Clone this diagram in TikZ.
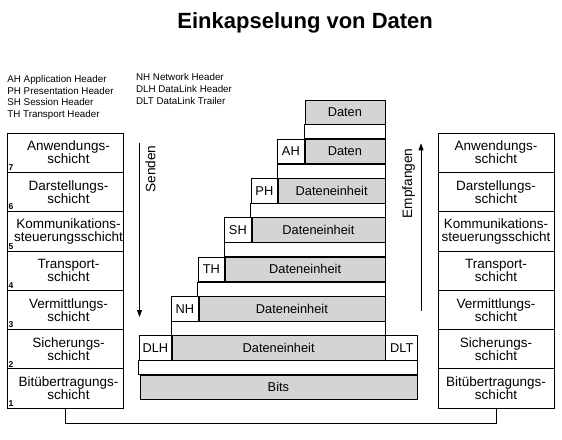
\documentclass[tikz,border=0pt]{standalone}
\usepackage{fontspec}
\setmainfont{Liberation Sans}
\usetikzlibrary{arrows.meta}

\begin{document}
\begin{tikzpicture}[x=1pt, y=-1pt, >={Triangle[length=7pt, width=5pt]}, line width=0.8pt,
  laytxt/.style={inner sep=0pt, align=center, font=\fontsize{13.5}{13}\selectfont},
  lay/.style={laytxt, draw, minimum width=116pt, minimum height=39.3pt},
  num/.style={inner sep=1.6pt, font=\fontsize{8.5}{9}\selectfont\bfseries},
  hdr/.style={draw, fill=white, minimum height=24.5pt, inner sep=0pt, font=\fontsize{12.8}{14}\selectfont},
  pay/.style={hdr, fill=black!17},
  leg/.style={anchor=base west, inner sep=0pt, font=\fontsize{9.8}{12}\selectfont},
  dir/.style={rotate=90, inner sep=0pt, font=\fontsize{13.7}{14}\selectfont}]
\useasboundingbox (0,0) rectangle (562,439);
%% title and legend
\node[anchor=base west, inner sep=0pt, font=\fontsize{22}{26}\selectfont\bfseries] (title) at (177,28) {Einkapselung von Daten};
\node[leg] (lah) at (7,82.5) {AH Application Header};
\node[leg] (lph) at (7,94) {PH Presentation Header};
\node[leg] (lsh) at (7,105.5) {SH Session Header};
\node[leg] (lth) at (7,117) {TH Transport Header};
\node[leg] (lnh) at (135.7,80.7) {NH Network Header};
\node[leg] (ldlh) at (135.7,92.7) {DLH DataLink Header};
\node[leg] (ldlt) at (135.7,104.7) {DLT DataLink Trailer};
%% sender layers
\node[lay] (s7) at (65,152.65) {};
\node[lay] (s6) at (65,191.95) {};
\node[lay] (s5) at (65,231.25) {};
\node[lay] (s4) at (65,270.55) {};
\node[lay] (s3) at (65,309.85) {};
\node[lay] (s2) at (65,349.15) {};
\node[lay] (s1) at (65,388.45) {};
\node[laytxt] (t7) at ([xshift=3.5pt]s7.center) {Anwendungs-\\schicht};
\node[laytxt] (t6) at ([xshift=3.5pt]s6.center) {Darstellungs-\\schicht};
\node[laytxt] (t5) at ([xshift=3.5pt]s5.center) {Kommunikations-\\steuerungsschicht};
\node[laytxt] (t4) at ([xshift=3.5pt]s4.center) {Transport-\\schicht};
\node[laytxt] (t3) at ([xshift=3.5pt]s3.center) {Vermittlungs-\\schicht};
\node[laytxt] (t2) at ([xshift=3.5pt]s2.center) {Sicherungs-\\schicht};
\node[laytxt] (t1) at ([xshift=3.5pt]s1.center) {Bitübertragungs-\\schicht};
\node[num, anchor=south west] (n7) at (s7.south west) {7};
\node[num, anchor=south west] (n6) at (s6.south west) {6};
\node[num, anchor=south west] (n5) at (s5.south west) {5};
\node[num, anchor=south west] (n4) at (s4.south west) {4};
\node[num, anchor=south west] (n3) at (s3.south west) {3};
\node[num, anchor=south west] (n2) at (s2.south west) {2};
\node[num, anchor=south west] (n1) at (s1.south west) {1};
%% receiver layers
\node[lay] (e7) at (496,152.65) {Anwendungs-\\schicht};
\node[lay] (e6) at (496,191.95) {Darstellungs-\\schicht};
\node[lay] (e5) at (496,231.25) {Kommunikations-\\steuerungsschicht};
\node[lay] (e4) at (496,270.55) {Transport-\\schicht};
\node[lay] (e3) at (496,309.85) {Vermittlungs-\\schicht};
\node[lay] (e2) at (496,349.15) {Sicherungs-\\schicht};
\node[lay] (e1) at (496,388.45) {Bitübertragungs-\\schicht};
\draw (s1.south) -- ++(0,15) -| (e1.south);
%% frames
\node[pay, minimum width=80pt, anchor=north west] (d7) at (304.5,99.5) {Daten};
\node[pay, minimum width=80pt, anchor=north west] (d6) at (304.5,138.8) {Daten};
\node[hdr, minimum width=26.5pt, anchor=north east] (ah) at (d6.north west) {AH};
\node[pay, minimum width=106.5pt, anchor=north west] (d5) at (278,178.1) {Dateneinheit};
\node[hdr, minimum width=26.5pt, anchor=north east] (ph) at (d5.north west) {PH};
\node[pay, minimum width=133pt, anchor=north west] (d4) at (251.5,217.4) {Dateneinheit};
\node[hdr, minimum width=26.5pt, anchor=north east] (sh) at (d4.north west) {SH};
\node[pay, minimum width=159.5pt, anchor=north west] (d3) at (225,256.7) {Dateneinheit};
\node[hdr, minimum width=26.5pt, anchor=north east] (th) at (d3.north west) {TH};
\node[pay, minimum width=186pt, anchor=north west] (d2) at (198.5,296) {Dateneinheit};
\node[hdr, minimum width=26.5pt, anchor=north east] (nh) at (d2.north west) {NH};
\node[pay, minimum width=212.5pt, anchor=north west] (d1) at (172,335.3) {Dateneinheit};
\node[hdr, minimum width=32.5pt, anchor=north east] (dlh) at (d1.north west) {DLH};
\node[hdr, minimum width=32pt, anchor=north west] (dlt) at (d1.north east) {DLT};
\node[pay, minimum width=277pt, anchor=north west] (bits) at (139.5,374.6) {Bits};
\draw[fill=white] (d7.south west) rectangle (d6.north east);
\draw[fill=white] (ah.south west) rectangle (d5.north east);
\draw[fill=white] (ph.south west) rectangle (d4.north east);
\draw[fill=white] (sh.south west) rectangle (d3.north east);
\draw[fill=white] (th.south west) rectangle (d2.north east);
\draw[fill=white] (nh.south west) rectangle (d1.north east);
\draw[fill=white] (dlh.south west) rectangle (bits.north east);
%% directions
\coordinate (st) at (139.5,142.5);
\coordinate (se) at (139.5,317);
\draw[->] (st) -- (se);
\node[dir] (snd) at (150.5,169) {Senden};
\coordinate (et) at (421,310.5);
\coordinate (ee) at (421,143.3);
\draw[->] (et) -- (ee);
\node[dir] (emp) at (408.5,183.5) {Empfangen};
\end{tikzpicture}
\end{document}
